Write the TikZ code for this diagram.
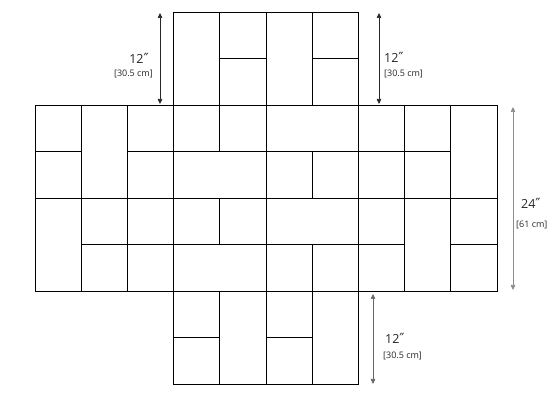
\documentclass[tikz,border=0pt]{standalone}
\usepackage{fontspec}
\setmainfont{Open Sans}
\newfontfamily\primefont{DejaVu Sans}
\usetikzlibrary{arrows.meta}
\newcommand\mytile[4]{\draw[tileline] ({35+#1*46.2pt},{-(12pt+#2*46.5pt)}) rectangle ++({#3*46.2pt},{-#4*46.5pt});}
\newcommand\dprime{{\primefont\fontsize{14}{16}\selectfont ″}}
\begin{document}
\begin{tikzpicture}[x=1pt,y=1pt,
  tileline/.style={draw=black,line width=0.9pt},
  dimarrow/.style={line width=0.7pt,{Triangle[length=5pt,width=4.5pt]}-{Triangle[length=5pt,width=4.5pt]}},
  bigtxt/.style={inner sep=0pt,font=\fontsize{12.5}{14}\selectfont,text=black!85},
  smalltxt/.style={inner sep=0pt,font=\fontsize{9}{11}\selectfont,text=black!85}]
\useasboundingbox (0,0) rectangle (550,-403);
% top block
\mytile{3}{0}{1}{2}
\mytile{4}{0}{1}{1}
\mytile{4}{1}{1}{1}
\mytile{5}{0}{1}{2}
\mytile{6}{0}{1}{1}
\mytile{6}{1}{1}{1}
% main block row 2
\mytile{0}{2}{1}{1}
\mytile{1}{2}{1}{2}
\mytile{2}{2}{1}{1}
\mytile{3}{2}{1}{1}
\mytile{4}{2}{1}{1}
\mytile{5}{2}{2}{1}
\mytile{7}{2}{1}{1}
\mytile{8}{2}{1}{1}
\mytile{9}{2}{1}{2}
% row 3
\mytile{0}{3}{1}{1}
\mytile{2}{3}{1}{1}
\mytile{3}{3}{2}{1}
\mytile{5}{3}{1}{1}
\mytile{6}{3}{1}{1}
\mytile{7}{3}{1}{1}
\mytile{8}{3}{1}{1}
% row 4
\mytile{0}{4}{1}{2}
\mytile{1}{4}{1}{1}
\mytile{2}{4}{1}{1}
\mytile{3}{4}{1}{1}
\mytile{4}{4}{1}{1}
\mytile{5}{4}{2}{1}
\mytile{7}{4}{1}{1}
\mytile{8}{4}{1}{2}
\mytile{9}{4}{1}{1}
% row 5
\mytile{1}{5}{1}{1}
\mytile{2}{5}{1}{1}
\mytile{3}{5}{2}{1}
\mytile{5}{5}{1}{1}
\mytile{6}{5}{1}{1}
\mytile{7}{5}{1}{1}
\mytile{9}{5}{1}{1}
% bottom block
\mytile{3}{6}{1}{1}
\mytile{3}{7}{1}{1}
\mytile{4}{6}{1}{2}
\mytile{5}{6}{1}{1}
\mytile{5}{7}{1}{1}
\mytile{6}{6}{1}{2}
% dimension arrows
\coordinate (tlA) at (160,-13);
\coordinate (tlB) at (160,-104);
\coordinate (trA) at (379,-13);
\coordinate (trB) at (379,-104);
\coordinate (rA) at (513,-107);
\coordinate (rB) at (513,-290);
\coordinate (bA) at (373,-294);
\coordinate (bB) at (373,-384);
\draw[dimarrow,draw=black!85,fill=black!85] (tlA) -- (tlB);
\draw[dimarrow,draw=black!85,fill=black!85] (trA) -- (trB);
\draw[dimarrow,draw=black!45,fill=black!80] (rA) -- (rB);
\draw[dimarrow,draw=black!60,fill=black!80] (bA) -- (bB);
% labels
\node[bigtxt,anchor=east] (tl1) at (149,-58) {12\dprime};
\node[smalltxt,anchor=east] (tl2) at (153,-74) {[30.5 cm]};
\node[bigtxt,anchor=west] (tr1) at (384,-57) {12\dprime};
\node[smalltxt,anchor=west] (tr2) at (384,-74) {[30.5 cm]};
\node[bigtxt,anchor=west] (r1) at (521,-203) {24\dprime};
\node[smalltxt,anchor=west] (r2) at (516,-225) {[61 cm]};
\node[bigtxt,anchor=west] (b1) at (385,-338) {12\dprime};
\node[smalltxt,anchor=west] (b2) at (383,-356) {[30.5 cm]};
\end{tikzpicture}
\end{document}
